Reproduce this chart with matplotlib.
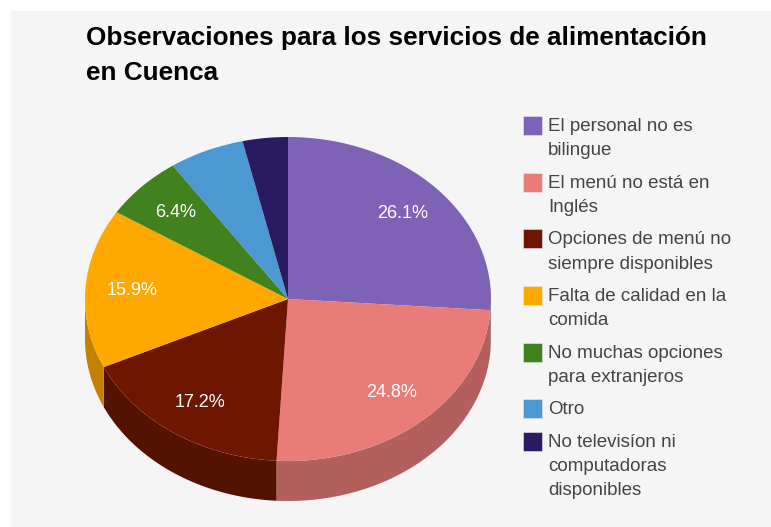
import numpy as np
import matplotlib
matplotlib.use("Agg")
import matplotlib.pyplot as plt
from matplotlib.colors import to_rgb
from matplotlib.patches import Rectangle

plt.rcParams['font.family'] = ['Liberation Sans', 'DejaVu Sans']

# datos
titulo = "Observaciones para los servicios de alimentación\nen Cuenca"
categorias = [
    "El personal no es\nbilingue",
    "El menú no está en\nInglés",
    "Opciones de menú no\nsiempre disponibles",
    "Falta de calidad en la\ncomida",
    "No muchas opciones\npara extranjeros",
    "Otro",
    "No televisíon ni\ncomputadoras\ndisponibles",
]
valores = [26.1, 24.8, 17.2, 15.9, 6.4, 6.0, 3.6]
colores = ['#7d62b5', '#e97b79', '#6d1700', '#ffa800', '#41821f', '#4b98d3', '#2a1a60']

W, H = 771, 527
# geometria de la elipse en pixeles
CX, CY, RX, RY, GROSOR = 288, 299, 203, 162, 40

fig = plt.figure(figsize=(W / 100, H / 100), dpi=100, facecolor='white')

# fondo y textos en coordenadas de pixel
fondo = fig.add_axes([0, 0, 1, 1], zorder=0)
fondo.set_xlim(0, W)
fondo.set_ylim(H, 0)
fondo.axis('off')
fondo.add_patch(Rectangle((11, 11), W - 11, H - 11, facecolor='#f5f5f5', edgecolor='none'))

# el circulo unidad de este eje se ve como la elipse del grafico
ax = fig.add_axes([0, 0, 1, 1], zorder=1)
ax.patch.set_alpha(0)

# paredes laterales, solo la mitad de abajo se ve
fin = np.cumsum(valores) / np.sum(valores) * 360
ini = np.r_[0, fin[:-1]]
prof = GROSOR / RY
for a, b, c in zip(ini, fin, colores):
    a2, b2 = max(a, 90), min(b, 270)
    if a2 >= b2:
        continue
    t = np.radians(np.linspace(a2, b2, 80))
    x = np.sin(t)
    y = np.cos(t)
    ax.fill(np.r_[x, x[::-1]], np.r_[y, y[::-1] - prof],
            color=np.array(to_rgb(c)) * 0.77, lw=0)


def etiqueta(p):
    return f"{p:.1f}%" if p > 6.2 else ""


wedges, textos, pcts = ax.pie(valores, colors=colores, startangle=90, counterclock=False,
                              radius=1, autopct=etiqueta, pctdistance=0.77,
                              wedgeprops=dict(linewidth=0),
                              textprops=dict(color='white', fontsize=13))
ax.set_aspect('auto')
ax.set_xlim(-CX / RX, (W - CX) / RX)
ax.set_ylim((CY - H) / RY, CY / RY)

fondo.text(86, 26, titulo, fontsize=18.8, fontweight='bold', color='black',
           va='top', ha='left', linespacing=1.57)

# leyenda hecha a mano: el cuadro va alineado con la primera linea
capa = fig.add_axes([0, 0, 1, 1], zorder=2)
capa.set_xlim(0, W)
capa.set_ylim(H, 0)
capa.axis('off')
y = 125.5
for nombre, c in zip(categorias, colores):
    capa.add_patch(Rectangle((523, y - 9.5), 19, 19, facecolor=c, edgecolor='#e8e8f0', lw=0.4))
    n = nombre.count("\n") + 1
    capa.text(548, y - 7.5, nombre, fontsize=13.5, color='#444444', va='top', ha='left',
              linespacing=1.56)
    y += n * 24.5 + 7.7

fig.savefig("out.png", dpi=100, facecolor='white')
